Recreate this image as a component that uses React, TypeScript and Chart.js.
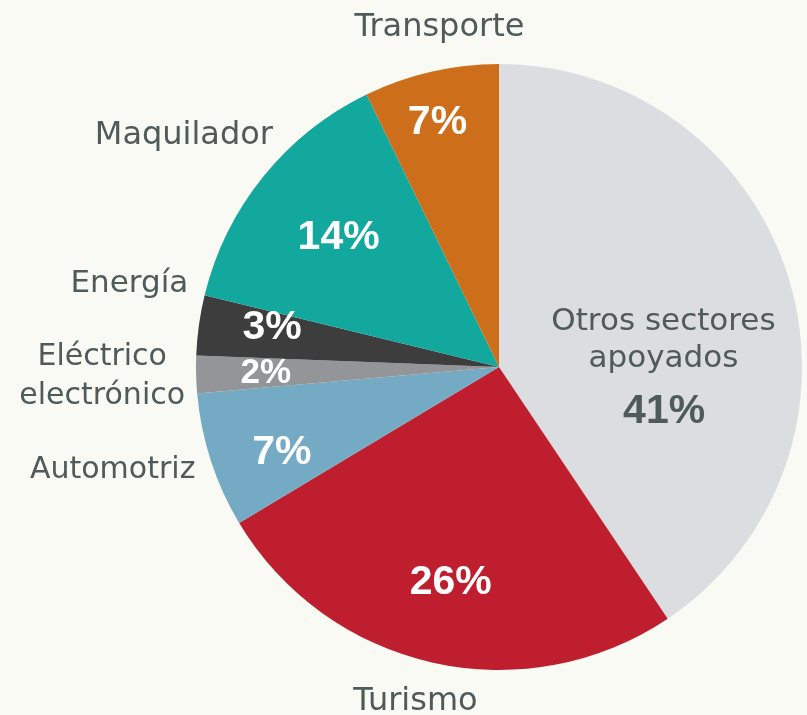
import React, { useEffect, useRef } from "react";
import { Chart, registerables } from "chart.js";

Chart.register(...registerables);

// ---- data ----
const categories = [
  "Otros sectores apoyados",
  "Turismo",
  "Automotriz",
  "Eléctrico electrónico",
  "Energía",
  "Maquilador",
  "Transporte",
];
const nameLines = [
  ["Otros sectores", "apoyados"],
  ["Turismo"],
  ["Automotriz"],
  ["Eléctrico", "electrónico"],
  ["Energía"],
  ["Maquilador"],
  ["Transporte"],
];
const shares = [40.6, 25.8, 7.2, 2.0, 3.2, 14.0, 7.2];
const pctLabels = ["41%", "26%", "7%", "2%", "3%", "14%", "7%"];

// ---- styles ----
const sliceColors = ["#dcdde0", "#be1e2d", "#74aac3", "#939598", "#3d3d3e", "#13a89e", "#cd6f1a"];
const textGray = "#4f5a5b";
const pctColors = [textGray, "#ffffff", "#ffffff", "#ffffff", "#ffffff", "#ffffff", "#ffffff"];
const pctSizes = [41, 41, 41, 35, 41, 41, 41];
const nameSizes = [31, 32, 30, 30, 31, 32, 32];
const nameLineHeights = [37, 38, 38, 39, 38, 38, 38];
// label placement: [radius factor, angle offset (deg) from slice mid-angle]
const namePlace = [[0.55, 7.6], [1.14, 1.4], [1.32, 3], [1.31, 0], [1.25, 4.7], [1.29, -2.6], [1.136, 3]];
const pctPlace = [[0.565, 32.2], [0.73, 0], [0.77, -3.5], [0.77, 0], [0.76, 1.8], [0.68, 0], [0.83, -1.2]];

const labelPlugin = {
  id: "sliceLabels",
  afterDraw(chart: any) {
    const ctx = chart.ctx;
    const meta = chart.getDatasetMeta(0);
    ctx.save();
    ctx.textAlign = "center";
    ctx.textBaseline = "middle";
    meta.data.forEach((arc: any, i: number) => {
      const p = arc.getProps(["x", "y", "startAngle", "endAngle", "outerRadius"], true);
      const mid = (p.startAngle + p.endAngle) / 2;
      // names
      const [nf, no] = namePlace[i];
      const na = mid + (no * Math.PI) / 180;
      const nx = p.x + p.outerRadius * nf * Math.cos(na);
      const ny = p.y + p.outerRadius * nf * Math.sin(na);
      ctx.font = `${nameSizes[i]}px "DejaVu Sans"`;
      ctx.fillStyle = textGray;
      const lines = nameLines[i];
      lines.forEach((ln, k) => {
        ctx.fillText(ln, nx, ny + (k - (lines.length - 1) / 2) * nameLineHeights[i]);
      });
      // percentages
      const [pf, po] = pctPlace[i];
      const pa = mid + (po * Math.PI) / 180;
      const px = p.x + p.outerRadius * pf * Math.cos(pa);
      const py = p.y + p.outerRadius * pf * Math.sin(pa);
      ctx.font = `bold ${pctSizes[i]}px "Liberation Sans"`;
      ctx.fillStyle = pctColors[i];
      ctx.fillText(pctLabels[i], px, py);
    });
    ctx.restore();
  },
};

export default function App() {
  const ref = useRef<HTMLCanvasElement | null>(null);
  useEffect(() => {
    if (!ref.current) return;
    const chart = new Chart(ref.current, {
      type: "pie",
      data: {
        labels: categories,
        datasets: [
          {
            data: shares,
            backgroundColor: sliceColors,
            borderWidth: 0,
          },
        ],
      },
      options: {
        animation: false,
        responsive: false,
        maintainAspectRatio: false,
        layout: { padding: { left: 196, right: 5, top: 64, bottom: 45 } },
        plugins: {
          legend: { display: false },
          tooltip: { enabled: false },
        },
      },
      plugins: [labelPlugin],
    });
    return () => chart.destroy();
  }, []);
  return (
    <div
      style={{
        position: "fixed",
        left: 0,
        top: 0,
        width: 807,
        height: 715,
        background: "#fafaf5",
      }}
    >
      <canvas ref={ref} width={807} height={715} style={{ display: "block" }} />
    </div>
  );
}
